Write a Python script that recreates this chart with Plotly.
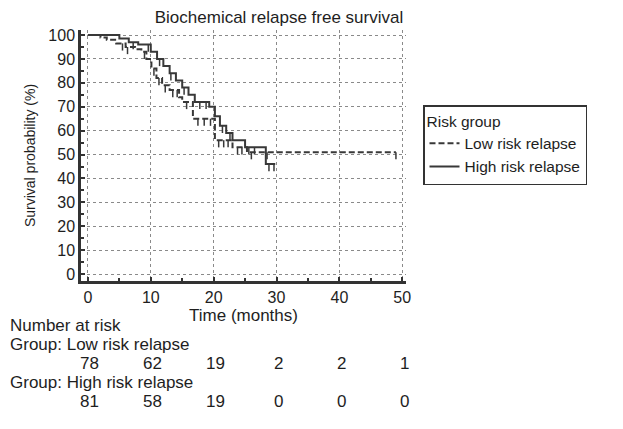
import plotly.graph_objects as go

# ---- data ----
low_t = [0, 2, 3, 4.5, 6, 7.5, 8.5, 9.3, 10.1, 10.9, 11.8, 13, 14.5, 15, 16.7, 20.2, 23, 25.3, 49]
low_s = [100, 99, 98, 96.5, 95, 94, 93, 90, 86, 82, 79, 77, 74, 72, 65, 56, 53, 51, 51]
high_t = [0, 5, 6.5, 8, 10, 11, 12, 13, 14, 15, 16, 17, 19.3, 20.2, 21, 22, 23, 25, 28.3, 29.8]
high_s = [100, 98.5, 97, 96, 93, 90, 87, 84, 81, 78, 75, 72, 70, 66, 62, 59, 56, 53, 46, 46]
low_cens = [5.5, 6.3, 9, 10.5, 11.3, 12.3, 13.5, 14.2, 15.7, 17.5, 18.5, 19.5, 20.8, 21.6, 22.3, 23.8, 24.5, 26, 28.5, 49]
high_cens = [7.2, 9.6, 11.4, 13.2, 15.3, 17.8, 18.8, 21.4, 22.6, 25.6, 26.5, 28.8, 29.6]
risk_times = [0, 10, 20, 30, 40, 50]
risk_low = [78, 62, 19, 2, 2, 1]
risk_high = [81, 58, 19, 0, 0, 0]

FONT = "Liberation Sans, Arial, sans-serif"
LC = "#383838"
TC = "#1e1e1e"


def surv_at(ts, ss, x):
    v = ss[0]
    for t, s in zip(ts, ss):
        if t <= x:
            v = s
    return v


def cens_xy(ts, ss, cens):
    xs, ys = [], []
    for c in cens:
        v = surv_at(ts, ss, c)
        xs += [c, c, None]
        ys += [v, v - 3.0, None]
    return xs, ys


fig = go.Figure()
fig.add_trace(go.Scatter(x=low_t, y=low_s, mode="lines", line=dict(shape="hv", color=LC, width=2, dash="6px,3px"),
                         name="Low risk relapse"))
fig.add_trace(go.Scatter(x=high_t, y=high_s, mode="lines", line=dict(shape="hv", color=LC, width=2),
                         name="High risk relapse"))
cx, cy = cens_xy(low_t, low_s, low_cens)
fig.add_trace(go.Scatter(x=cx, y=cy, mode="lines", line=dict(color=LC, width=1.5), showlegend=False, hoverinfo="skip"))
cx, cy = cens_xy(high_t, high_s, high_cens)
fig.add_trace(go.Scatter(x=cx, y=cy, mode="lines", line=dict(color=LC, width=1.5), showlegend=False, hoverinfo="skip"))

# page has an 8px body margin: convert page pixel positions to figure pixels
OFF = 8
W, H = 623, 429
P_LEFT, P_RIGHT, P_TOP, P_BOTTOM = 81, 406, 30, 281
ml = P_LEFT - OFF
mt = P_TOP - OFF
mr = W - (P_RIGHT - OFF)
mb = H - (P_BOTTOM - OFF)
pw = W - ml - mr
ph = H - mt - mb


def py(pix):
    return (P_BOTTOM - pix) / ph


def px(pix):
    return (pix - P_LEFT) / pw


TFS = 17
annotations = []
annotations.append(dict(text="Number at risk", x=px(8), y=py(325), xref="paper", yref="paper",
                        xanchor="left", yanchor="middle", showarrow=False, font=dict(size=TFS, color=TC, family=FONT)))
rows = [("Group: Low risk relapse", 344, risk_low, 363), ("Group: High risk relapse", 382, risk_high, 401)]
for label, ly, vals, vy in rows:
    annotations.append(dict(text=label, x=px(8), y=py(ly), xref="paper", yref="paper",
                            xanchor="left", yanchor="middle", showarrow=False, font=dict(size=TFS, color=TC, family=FONT)))
    for t, v in zip(risk_times, vals):
        annotations.append(dict(text=str(v), x=t + 0.3, y=py(vy), xref="x", yref="paper",
                                xanchor="center", yanchor="middle", showarrow=False,
                                font=dict(size=TFS, color=TC, family=FONT)))

fig.update_layout(
    width=W, height=H, margin=dict(l=ml, r=mr, t=mt, b=mb, autoexpand=False),
    paper_bgcolor="white", plot_bgcolor="white",
    font=dict(family=FONT, size=16, color=TC),
    title=dict(text="Biochemical relapse free survival", x=(279 - OFF) / W, xanchor="center",
               y=1 - 3 / H, yanchor="top",
               font=dict(size=17, family=FONT, color=TC)),
    showlegend=True,
    legend=dict(title=dict(text="Risk group", font=dict(size=15.5)), x=px(423), y=py(105), xanchor="left", yanchor="top",
                bordercolor="#333", borderwidth=1.5, bgcolor="white", font=dict(size=15.5, family=FONT),
                tracegroupgap=0, itemwidth=30),
    annotations=annotations,
)
fig.update_xaxes(range=[-1.1, 50.6], tickvals=list(range(0, 51, 10)), showgrid=True, gridcolor="#8a8a8a",
                 griddash="dot", gridwidth=1, zeroline=False, showline=True, linecolor="#333", linewidth=2.5,
                 ticks="inside", ticklen=4, tickcolor="#333", tickwidth=1.5, automargin=False,
                 minor=dict(tickvals=list(range(5, 51, 10)), ticks="inside", ticklen=3, tickcolor="#333"),
                 title=dict(text="Time (months)", standoff=4, font=dict(size=17)), tickfont=dict(size=16))
fig.update_yaxes(range=[-2.9, 102.1], tickvals=list(range(0, 101, 10)), showgrid=True, gridcolor="#8a8a8a",
                 griddash="dot", gridwidth=1, zeroline=False, showline=True, linecolor="#333", linewidth=2.5,
                 ticks="inside", ticklen=4, tickcolor="#333", tickwidth=1.5, automargin=False,
                 minor=dict(tickvals=list(range(5, 101, 10)), ticks="inside", ticklen=3, tickcolor="#333"),
                 title=dict(text="Survival probability (%)", standoff=10, font=dict(size=14)), tickfont=dict(size=16))

fig.write_html("out.html")
